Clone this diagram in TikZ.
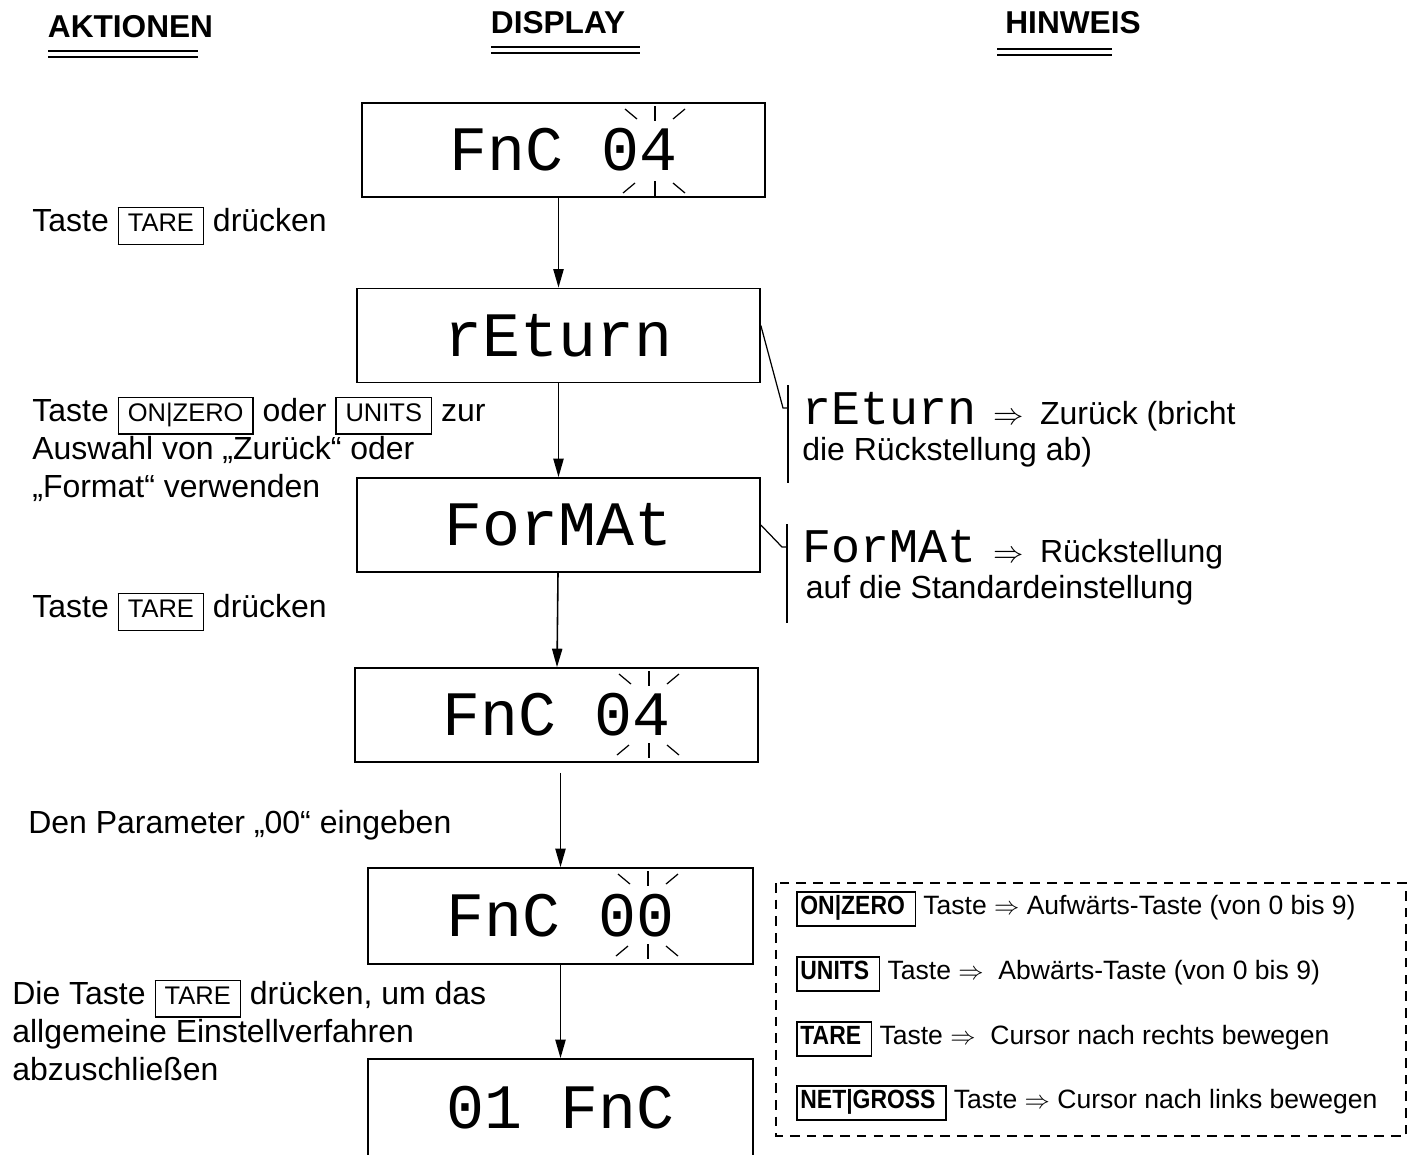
\documentclass[tikz,border=0pt]{standalone}
\usepackage{graphicx}
\usepackage{fontspec}
\setmainfont{Liberation Sans}
\newfontfamily\segfont{Liberation Mono}
\usetikzlibrary{arrows.meta}

\newcommand{\keyn}[1]{{\fboxsep=1.6pt\fboxrule=0.7pt\fbox{\fontsize{14.5}{17}\selectfont\strut\hspace{3.5pt}#1\hspace{3.5pt}}}}
\newcommand{\keyb}[1]{{\fboxsep=1.6pt\fboxrule=0.7pt\fbox{\fontsize{15}{15.5}\selectfont\bfseries\strut\scalebox{0.87}[1]{#1}\hspace{4pt}}}}
\newcommand{\segsmall}{\segfont\fontsize{27.5}{27.5}\selectfont}

\begin{document}
\begin{tikzpicture}[x=0.02cm, y=-0.02cm,
	disp/.style={draw, line width=1pt, minimum width=8.06cm, minimum height=1.88cm, inner sep=0, font=\segfont\fontsize{36}{36}\selectfont},
	act/.style={anchor=west, inner sep=0, align=left, font=\fontsize{18.2}{21.5}\selectfont},
	head/.style={inner sep=0, font=\fontsize{18}{20}\selectfont\bfseries},
	dline/.style={double, line width=1.2pt, double distance=2pt},
	flow/.style={-{Triangle[length=10.5pt,width=5.8pt]}, line width=0.9pt},
	note/.style={anchor=west, inner sep=0, align=left, font=\fontsize{18.2}{20.6}\selectfont},
	legend/.style={anchor=west, inner sep=0, font=\fontsize{15.1}{17}\selectfont},
	blink/.style={line width=0.7pt}]
		\useasboundingbox (0,0) rectangle (1408,1154);
		\clip (0,0) rectangle (1408,1154);

		% column heads
		\node[head] (hdAkt) at (130.5,27) {AKTIONEN};
		\node[head] (hdDisp) at (558,23) {DISPLAY};
		\node[head] (hdHinw) at (1073,23) {HINWEIS};
		\draw[dline] (48,54) -- (198,54);
		\draw[dline] (491,50) -- (640,50);
		\draw[dline] (997,52) -- (1112,52);

		% displays
		\node[disp] (dispA) at (563.5,150) {FnC 04};
		\node[disp] (dispB) at (558.5,335.5) {rEturn};
		\node[disp] (dispC) at (558.5,525) {ForMAt};
		\node[disp] (dispD) at (556.5,715) {FnC 04};
		\node[disp, minimum width=7.7cm, minimum height=1.92cm] (dispE) at (560.5,916) {FnC 00};
		\node[disp, minimum width=7.7cm, minimum height=1.96cm] (dispF) at (560.5,1108) {01 FnC};

		% blinking digit
		\foreach \mx/\ta/\tb in {655/106/181, 649/671/743, 648/871/944} {
			\draw[blink] (\mx,\ta) -- ++(0,15);
			\draw[blink] (\mx-30,\ta+3) -- ++(12,10);
			\draw[blink] (\mx+30,\ta+3) -- ++(-12,10);
			\draw[blink] (\mx,\tb) -- ++(0,15);
			\draw[blink] (\mx-32,\tb+12) -- ++(12,-10);
			\draw[blink] (\mx+30,\tb+12) -- ++(-12,-10);
		}

		\draw[flow] (dispA.south -| dispB.north) -- (dispB.north);
		\path[flow]
		(dispB) edge (dispC)
		(dispC) edge (dispD)
		(dispE) edge (dispF)
		;
		\draw[flow, shorten <=0.2cm] (dispD.south -| dispE.north) -- (dispE.north);

		% actions
		\node[act] (actTare) at (32,226) {Taste \keyn{TARE} drücken};
		\node[act] (actSel) at (32,449) {Taste \keyn{ON|ZERO} oder \keyn{UNITS} zur\\Auswahl von „Zurück“ oder\\„Format“ verwenden};
		\node[act] (actTareB) at (32,612) {Taste \keyn{TARE} drücken};
		\node[act] (actPar) at (28,825) {Den Parameter „00“ eingeben};
		\node[act] (actEnd) at (12,1030) {Die Taste \keyn{TARE} drücken, um das\\allgemeine Einstellverfahren\\abzuschließen};

		% notes
		\coordinate (retTop) at (788,385);
		\coordinate (retBot) at (788,483);
		\coordinate (retKnee) at (783,408);
		\draw[line width=0.7pt] (retTop) -- (retBot);
		\draw[line width=0.7pt] ([yshift=0.2cm]dispB.east) -- (retKnee) -- (retKnee -| retTop);
		\node[note] (noteRet) at (802,430) {{\segsmall rEturn}\hspace{10pt}$\Rightarrow$\hspace{9pt}Zurück (bricht\\die Rückstellung ab)};

		\coordinate (fmtTop) at (787,524);
		\coordinate (fmtBot) at (787,623);
		\coordinate (fmtKnee) at (782,547);
		\draw[line width=0.7pt] (fmtTop) -- (fmtBot);
		\draw[line width=0.7pt] (dispC.east) -- (fmtKnee) -- (fmtKnee -| fmtTop);
		\node[note] (noteFmt) at (802,568) {{\segsmall ForMAt}\hspace{10pt}$\Rightarrow$\hspace{9pt}Rückstellung\\\hspace{2pt}auf die Standardeinstellung};

		% keys
		\draw[dashed, line width=1.1pt, dash pattern=on 5.5pt off 4pt] (776,883) rectangle (1406,1136);
		\node[legend] (legOn) at (796,909) {\keyb{ON|ZERO} Taste $\Rightarrow$ Aufwärts-Taste (von 0 bis 9)};
		\node[legend] (legUnits) at (796,974) {\keyb{UNITS} Taste $\Rightarrow$\ \ Abwärts-Taste (von 0 bis 9)};
		\node[legend] (legTare) at (796,1039) {\keyb{TARE} Taste $\Rightarrow$\ \ Cursor nach rechts bewegen};
		\node[legend] (legNet) at (796,1103) {\keyb{NET|GROSS} Taste $\Rightarrow$ Cursor nach links bewegen};
	\end{tikzpicture}
\end{document}
